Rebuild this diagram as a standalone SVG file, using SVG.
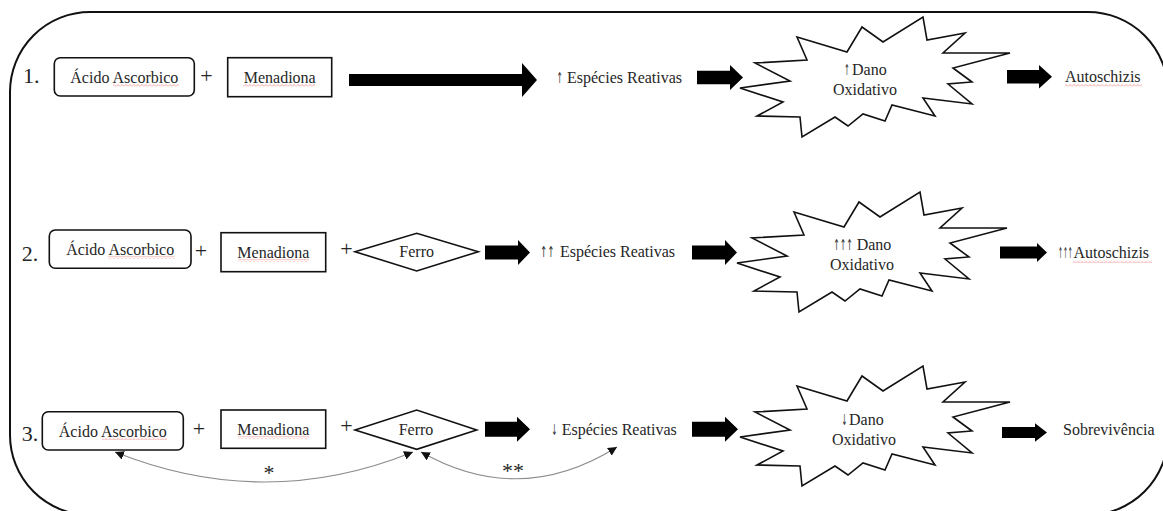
<svg xmlns="http://www.w3.org/2000/svg" width="1163" height="511" viewBox="0 0 1163 511">
<style>
.t{font-family:"Liberation Serif","DejaVu Serif",serif;font-size:16px;fill:#262626}
.lbl{font-family:"Liberation Serif","DejaVu Serif",serif;font-size:22px;fill:#262626}
.ar{font-family:"DejaVu Sans","Liberation Sans",sans-serif;font-size:15px;fill:#333}
.box{fill:#fff;stroke:#111;stroke-width:1.6}
.burst{fill:#fff;stroke:#111;stroke-width:1.6;stroke-linejoin:miter}
.blk{fill:#000}
.arc{fill:none;stroke:#8c8c8c;stroke-width:1.1;marker-start:url(#ah);marker-end:url(#ah)}
.sq{fill:url(#wavy)}
</style>
<defs>
<marker id="ah" viewBox="0 0 10 10" refX="10" refY="5" markerWidth="9" markerHeight="9" markerUnits="userSpaceOnUse" orient="auto-start-reverse">
<path d="M0,0 L10,5 L0,10 z" fill="#111"/>
</marker>
<pattern id="wavy" width="4" height="3" patternUnits="userSpaceOnUse">
<path d="M0,2.5 L2,0.5 L4,2.5" fill="none" stroke="#ef8a8a" stroke-width="0.8"/>
</pattern>
<polygon id="burst" class="burst" points="740,88 790,81 755,63 807,60 797,37 847,52 862,27 883,42 923,17 927,40 965,33 943,53 1010,53 953,68 972,82 948,84 972,104 923,98 935,116 892,105 885,121 863,114 848,126 835,117 802,137 800,117 757,116 783,102"/>
</defs>

<rect id="frame" x="10" y="12" width="1158" height="503" rx="80" ry="80" fill="none" stroke="#111" stroke-width="2"/>

<!-- Row 1 -->
<g id="row1">
<text class="lbl" x="23" y="83">1.</text>
<g id="r1-acido"><rect class="box" x="54.3" y="57.7" width="140" height="38.3" rx="6"/><text class="t" x="124.3" y="83" text-anchor="middle">Ácido Ascorbico</text><rect class="sq" x="113" y="84" width="66" height="3"/></g>
<text class="lbl" x="206.5" y="83" text-anchor="middle">+</text>
<g id="r1-menadiona"><rect class="box" x="227.7" y="57.7" width="104" height="39"/><text class="t" x="279.7" y="83" text-anchor="middle">Menadiona</text><rect class="sq" x="243" y="84" width="72" height="3"/></g>
<g id="r1-especies"><text class="ar" transform="translate(556.5,83) scale(0.5,1)">↑</text><text class="t" x="567" y="83">Espécies Reativas</text></g>
<g id="r1-dano"><use href="#burst" class="burst"/><text class="ar" transform="translate(844,75) scale(0.46,1)">↑</text><text class="t" x="852" y="75">Dano</text><text class="t" x="865" y="95" text-anchor="middle">Oxidativo</text></g>
<g id="r1-auto"><text class="t" x="1065" y="82">Autoschizis</text><rect class="sq" x="1065" y="84" width="77" height="3"/></g>
</g>

<!-- Row 2 -->
<g id="row2">
<text class="lbl" x="21.7" y="261">2.</text>
<g id="r2-acido"><rect class="box" x="49.3" y="230" width="141.7" height="38.3" rx="6"/><text class="t" x="120.2" y="255" text-anchor="middle">Ácido Ascorbico</text><rect class="sq" x="108" y="256" width="67" height="3"/></g>
<text class="lbl" x="201" y="257.5" text-anchor="middle">+</text>
<g id="r2-menadiona"><rect class="box" x="221" y="232.7" width="104.7" height="39"/><text class="t" x="273.3" y="258" text-anchor="middle">Menadiona</text><rect class="sq" x="238" y="259" width="71" height="3"/></g>
<text class="lbl" x="346.5" y="256" text-anchor="middle">+</text>
<g id="r2-ferro"><polygon class="box" points="355,251.7 416.7,233.3 478.3,251.7 416.7,271"/><text class="t" x="416.7" y="257" text-anchor="middle">Ferro</text></g>
<g id="r2-especies"><text class="ar" transform="translate(540,257) scale(0.58,1)">↑↑</text><text class="t" x="560" y="257">Espécies Reativas</text></g>
<g id="r2-dano"><use href="#burst" class="burst" transform="translate(-3,175)"/><text class="ar" transform="translate(833.3,250) scale(0.52,1)">↑↑↑</text><text class="t" x="856.7" y="250">Dano</text><text class="t" x="862" y="270" text-anchor="middle">Oxidativo</text></g>
<g id="r2-auto"><text class="ar" transform="translate(1058,258) scale(0.39,1)">↑↑↑</text><text class="t" x="1073.5" y="258">Autoschizis</text><rect class="sq" x="1073" y="260" width="79" height="3"/></g>
</g>

<!-- Row 3 -->
<g id="row3">
<text class="lbl" x="21.7" y="441">3.</text>
<g id="r3-acido"><rect class="box" x="42.3" y="411.7" width="141" height="38.3" rx="6"/><text class="t" x="112.8" y="436.7" text-anchor="middle">Ácido Ascorbico</text><rect class="sq" x="102" y="437" width="65" height="3"/></g>
<text class="lbl" x="199" y="436" text-anchor="middle">+</text>
<g id="r3-menadiona"><rect class="box" x="221" y="410" width="104.7" height="38.3"/><text class="t" x="273.3" y="435" text-anchor="middle">Menadiona</text><rect class="sq" x="238" y="436" width="71" height="3"/></g>
<text class="lbl" x="346.5" y="432.7" text-anchor="middle">+</text>
<g id="r3-ferro"><polygon class="box" points="355,430 416.7,410 476.7,430 416.7,449.3"/><text class="t" x="416" y="435" text-anchor="middle">Ferro</text></g>
<g id="r3-especies"><text class="ar" transform="translate(551.5,435) scale(0.46,1)">↓</text><text class="t" x="561.7" y="435">Espécies Reativas</text></g>
<g id="r3-dano"><use href="#burst" class="burst" transform="translate(0,349)"/><text class="ar" transform="translate(841.5,425) scale(0.46,1)">↓</text><text class="t" x="849" y="425">Dano</text><text class="t" x="864" y="445" text-anchor="middle">Oxidativo</text></g>
<g id="r3-sobre"><text class="t" x="1063" y="435">Sobrevivência</text></g>
</g>

<!-- Connectors -->
<g id="connectors">
<path class="blk" d="M349,74 L522,74 L522,63 L537,80 L522,97 L522,86 L349,86 Z"/>
<path class="blk" d="M697,70.8 L730,70.8 L730,65 L743,77.5 L730,90 L730,84.2 L697,84.2 Z"/>
<path class="blk" d="M1007,70 L1039,70 L1039,65 L1052,76.7 L1039,88.4 L1039,83.4 L1007,83.4 Z"/>
<path class="blk" d="M485,245.5 L518,245.5 L518,240 L530,252.5 L518,265 L518,259.5 L485,259.5 Z"/>
<path class="blk" d="M692,245.5 L725,245.5 L725,240 L737,252.5 L725,265 L725,259.5 L692,259.5 Z"/>
<path class="blk" d="M1000,246.5 L1037,246.5 L1037,243 L1047,252.5 L1037,262 L1037,258.5 L1000,258.5 Z"/>
<path class="blk" d="M485,421.7 L517,421.7 L517,416.7 L530,429.2 L517,441.7 L517,436.7 L485,436.7 Z"/>
<path class="blk" d="M692,421.7 L725,421.7 L725,416.7 L738,429.2 L725,441.7 L725,436.7 L692,436.7 Z"/>
<path class="blk" d="M1002,427 L1035,427 L1035,423.3 L1047,432.5 L1035,441.7 L1035,438 L1002,438 Z"/>
<path class="arc" d="M413,452 Q265,512 115,452"/>
<path class="arc" d="M421,452 Q520,508 617,447"/>
<text class="lbl" x="269" y="480" text-anchor="middle">*</text>
<text class="lbl" x="513" y="478" text-anchor="middle">**</text>
</g>
</svg>
